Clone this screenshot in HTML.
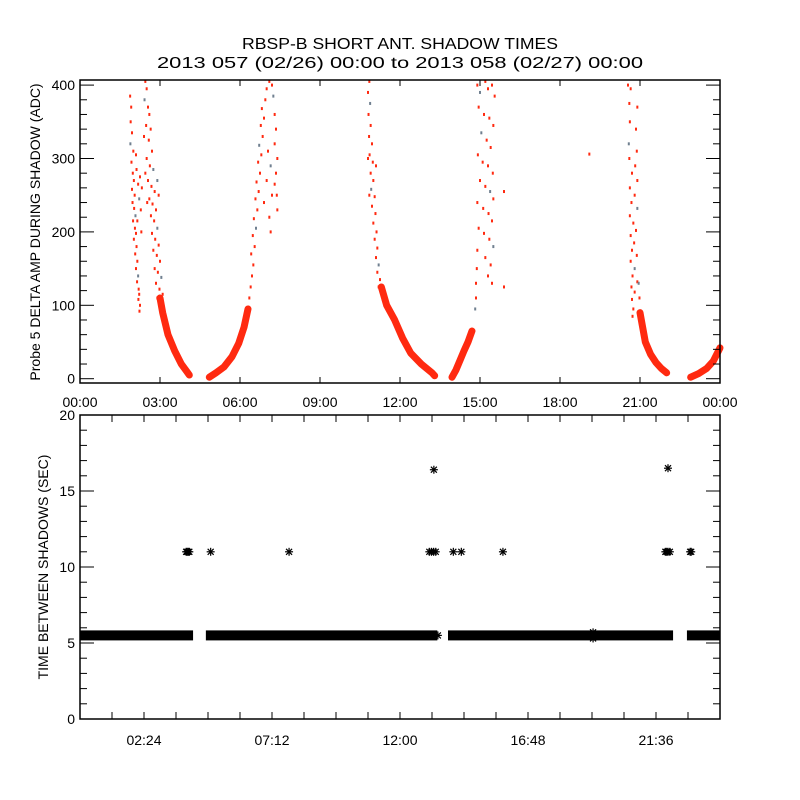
<!DOCTYPE html>
<html><head><meta charset="utf-8"><style>
html,body{margin:0;padding:0;background:#fff;}
svg{display:block;font-family:"Liberation Sans",sans-serif;}
text{fill:#000;}
</style></head><body>
<svg id="c" width="800" height="800" viewBox="0 0 800 800">
<rect width="800" height="800" fill="#fff"/>
<text x="400" y="49" text-anchor="middle" font-size="16" textLength="316" lengthAdjust="spacingAndGlyphs">RBSP-B SHORT ANT. SHADOW TIMES</text>
<text x="400" y="68" text-anchor="middle" font-size="16" textLength="486" lengthAdjust="spacingAndGlyphs">2013 057 (02/26) 00:00 to 2013 058 (02/27) 00:00</text>
<g id="topPanel"></g>
<g id="botPanel"></g>
<text transform="translate(40,232) rotate(-90)" text-anchor="middle" font-size="14">Probe 5 DELTA AMP DURING SHADOW (ADC)</text>
<text transform="translate(48,567) rotate(-90)" text-anchor="middle" font-size="14">TIME BETWEEN SHADOWS (SEC)</text>
</svg>
<script>
// ---- top panel data ----
const topXTicks = [0,3,6,9,12,15,18,21,24];
const topXLabels = ["00:00","03:00","06:00","09:00","12:00","15:00","18:00","21:00","00:00"];
const topYTicks = [0,100,200,300,400];
const topScatter = [
[1.88,385],[1.92,370],[1.90,350],[1.95,335],[1.89,320],[2.0,310],[1.93,295],[1.98,280],[2.02,270],[1.95,258],[2.05,250],[1.97,240],[2.03,232],[2.08,222],[1.99,215],[2.06,205],[2.1,198],[2.02,190],[2.12,180],[2.07,170],[2.15,160],[2.1,150],[2.18,140],[2.14,132],[2.2,122],[2.22,115],[2.19,108],[2.25,100],[2.23,92],[2.12,285],[2.18,265],[2.22,245],[2.28,230],[2.15,215],[2.3,200],[2.25,275],[2.32,260],[2.1,305],
[2.45,405],[2.5,395],[2.42,380],[2.55,370],[2.6,360],[2.48,345],[2.65,340],[2.58,325],[2.7,310],[2.5,300],[2.62,290],[2.75,285],[2.55,270],[2.68,262],[2.8,255],[2.6,245],[2.72,238],[2.85,230],[2.66,222],[2.78,215],[2.9,205],[2.7,198],[2.82,190],[2.95,182],[2.75,175],[2.88,168],[3.0,160],[2.8,150],[2.92,145],[3.05,138],[2.85,130],[2.98,122],[3.1,115],[2.9,110],[3.02,105],[2.4,330],[2.45,280],[2.52,240],[2.9,270],[2.95,250],
[6.35,110],[6.4,125],[6.45,140],[6.5,155],[6.42,170],[6.55,180],[6.48,195],[6.6,205],[6.52,218],[6.65,230],[6.58,245],[6.7,255],[6.62,268],[6.75,280],[6.68,295],[6.8,305],[6.72,318],[6.85,330],[6.78,345],[6.9,355],[6.82,368],[6.95,380],[7.0,395],[7.1,405],[7.2,400],[7.25,385],[7.3,360],[7.35,340],[7.3,320],[7.4,300],[7.35,280],[7.3,265],[7.38,250],[7.4,230],[7.15,290],[7.05,310],[7.0,270],[7.2,250],[6.9,240],[7.1,220],[7.15,200],
[10.85,405],[10.8,390],[10.88,375],[10.82,360],[10.9,345],[10.84,330],[10.95,320],[10.86,305],[10.98,295],[10.9,280],[11.0,270],[10.92,258],[11.05,248],[10.95,235],[11.08,225],[11.0,212],[11.12,200],[11.05,190],[11.15,178],[11.1,165],[11.2,155],[11.15,145],[11.25,135],[11.2,125],[11.3,118],[10.8,300],[10.85,250],[11.1,290],
[14.9,400],[15.0,390],[15.2,405],[15.3,395],[15.45,400],[15.55,385],[14.95,370],[15.15,360],[15.35,355],[15.5,345],[15.05,335],[15.25,325],[15.4,315],[14.92,305],[15.1,295],[15.3,290],[15.48,280],[15.0,270],[15.2,262],[15.38,255],[15.5,245],[14.9,240],[15.12,232],[15.32,225],[15.45,215],[14.95,205],[15.15,198],[15.35,190],[15.5,180],[14.9,175],[15.2,165],[15.4,155],[14.88,150],[15.3,140],[15.45,130],[14.85,130],[14.85,110],[14.82,95],[15.9,255],[15.9,125],
[20.55,400],[20.65,395],[20.6,375],[20.9,370],[20.62,350],[20.85,340],[20.58,320],[20.88,310],[20.6,300],[20.82,290],[20.7,280],[20.9,270],[20.62,260],[20.8,250],[20.68,240],[20.9,232],[20.62,222],[20.75,212],[20.85,202],[20.65,195],[20.78,185],[20.7,175],[20.88,168],[20.65,160],[20.8,150],[20.72,140],[20.9,132],[20.68,125],[20.8,118],[20.7,108],[20.75,95],[20.72,85],[20.98,110],[20.95,130],
[19.1,306]
];
const band1 = [[3.0,110],[3.1,90],[3.3,60],[3.55,38],[3.8,20],[4.0,10],[4.1,5]];
const band2 = [[4.85,2],[5.1,8],[5.4,16],[5.7,30],[5.95,48],[6.15,70],[6.3,95]];
const band3 = [[11.3,125],[11.5,100],[11.8,80],[12.1,55],[12.4,35],[12.8,20],[13.2,8],[13.3,4]];
const band4 = [[13.95,2],[14.1,12],[14.25,25],[14.4,38],[14.55,50],[14.7,65]];
const band5 = [[21.0,90],[21.1,70],[21.2,50],[21.4,33],[21.6,22],[21.8,14],[22.0,8]];
const band6 = [[22.9,2],[23.2,7],[23.5,14],[23.75,24],[24.0,42]];
// ---- bottom panel data ----
const botXTicks = [2.4,7.2,12.0,16.8,21.6];
const botXLabels = ["02:24","07:12","12:00","16:48","21:36"];
const botYTicks = [0,5,10,15,20];
const gapSegments = [[0,4.24],[4.72,13.4],[13.8,22.24],[22.76,24]];
const gapValue = 5.5;
const stars = [[3.98,11],[4.02,11],[4.06,11],[4.1,11],[4.9,11],[7.84,11],[13.1,11],[13.18,11],[13.26,11],[13.34,11],[14.0,11],[14.3,11],[15.86,11],[21.95,11],[22.0,11],[22.05,11],[22.12,11],[22.88,11],[22.92,11],[13.27,16.4],[22.05,16.5],[13.42,5.5],[15.9,5.5],[19.24,5.3],[19.24,5.7]];

const NS="http://www.w3.org/2000/svg";
function mk(parent,tag,attrs){const e=document.createElementNS(NS,tag);for(const k in attrs)e.setAttribute(k,attrs[k]);parent.appendChild(e);return e;}
const X0=80,X1=720;
const xs=h=>X0+h*(X1-X0)/24;
const T0=378.7,TS=0.734,TTOP=80,TBOT=383;
const yT=v=>T0-v*TS;
const B0=719,BTOP=415,BS=(B0-BTOP)/20;
const yB=v=>B0-v*BS;
const topG=document.getElementById('topPanel'),botG=document.getElementById('botPanel');

[band1,band2,band3,band4,band5,band6].forEach((b,i)=>{
  const p=mk(topG,'polyline',{points:b.map(d=>xs(d[0])+','+yT(d[1])).join(' '),fill:'none',stroke:'#ff2a10','stroke-width':7,'stroke-linejoin':'round','stroke-linecap':'round'});
  
  
});
topScatter.forEach((d,i)=>{
  const r=mk(topG,'rect',{x:xs(d[0])-1,y:yT(d[1])-1.5,width:2,height:3,fill:(i%9==4?'#708090':'#ff2a10')});
  
  
});
const tf=mk(topG,'rect',{x:X0,y:TTOP,width:X1-X0,height:TBOT-TTOP,fill:'none',stroke:'#000','stroke-width':1.5});


for(let v=0;v<=400;v+=20){
  const len=(v%100==0)?14:7;
  mk(topG,'line',{x1:X0,x2:X0+len,y1:yT(v),y2:yT(v),stroke:'#000'});
  mk(topG,'line',{x1:X1,x2:X1-len,y1:yT(v),y2:yT(v),stroke:'#000'});
}
topYTicks.forEach(v=>{
  const t=mk(topG,'text',{x:75,y:yT(v)+5,'text-anchor':'end','font-size':14});
  t.textContent=v;
  
  
});
topXTicks.forEach((h,i)=>{
  mk(topG,'line',{x1:xs(h),x2:xs(h),y1:TBOT,y2:TBOT-6,stroke:'#000'});
  mk(topG,'line',{x1:xs(h),x2:xs(h),y1:TTOP,y2:TTOP+6,stroke:'#000'});
  const t=mk(topG,'text',{x:xs(h),y:407,'text-anchor':'middle','font-size':14});
  t.textContent=topXLabels[i];
  
  
});
gapSegments.forEach(s=>{
  const r=mk(botG,'rect',{x:xs(s[0]),y:yB(gapValue)-5,width:xs(s[1])-xs(s[0]),height:10,fill:'#000'});
  
  
});
stars.forEach(d=>{
  const cx=xs(d[0]),cy=yB(d[1]);
  const g=mk(botG,'g',{stroke:'#000','stroke-width':1.2});
  
  
  mk(g,'line',{x1:cx-4,x2:cx+4,y1:cy,y2:cy});
  mk(g,'line',{x1:cx,x2:cx,y1:cy-4,y2:cy+4});
  mk(g,'line',{x1:cx-3,x2:cx+3,y1:cy-3,y2:cy+3});
  mk(g,'line',{x1:cx-3,x2:cx+3,y1:cy+3,y2:cy-3});
});
const bf=mk(botG,'rect',{x:X0,y:BTOP,width:X1-X0,height:B0-BTOP,fill:'none',stroke:'#000','stroke-width':1.5});


for(let v=0;v<=20;v++){
  const len=(v%5==0)?14:7;
  mk(botG,'line',{x1:X0,x2:X0+len,y1:yB(v),y2:yB(v),stroke:'#000'});
  mk(botG,'line',{x1:X1,x2:X1-len,y1:yB(v),y2:yB(v),stroke:'#000'});
}
botYTicks.forEach(v=>{
  const t=mk(botG,'text',{x:75,y:yB(v)+5,'text-anchor':'end','font-size':14});
  t.textContent=v;
  
  
});
for(let h=1.2;h<24;h+=1.2){
  mk(botG,'line',{x1:xs(h),x2:xs(h),y1:B0,y2:B0-7,stroke:'#000'});
  mk(botG,'line',{x1:xs(h),x2:xs(h),y1:BTOP,y2:BTOP+7,stroke:'#000'});
}
botXTicks.forEach((h,i)=>{
  const t=mk(botG,'text',{x:xs(h),y:745,'text-anchor':'middle','font-size':14});
  t.textContent=botXLabels[i];
  
  
});
</script>
</body></html>
